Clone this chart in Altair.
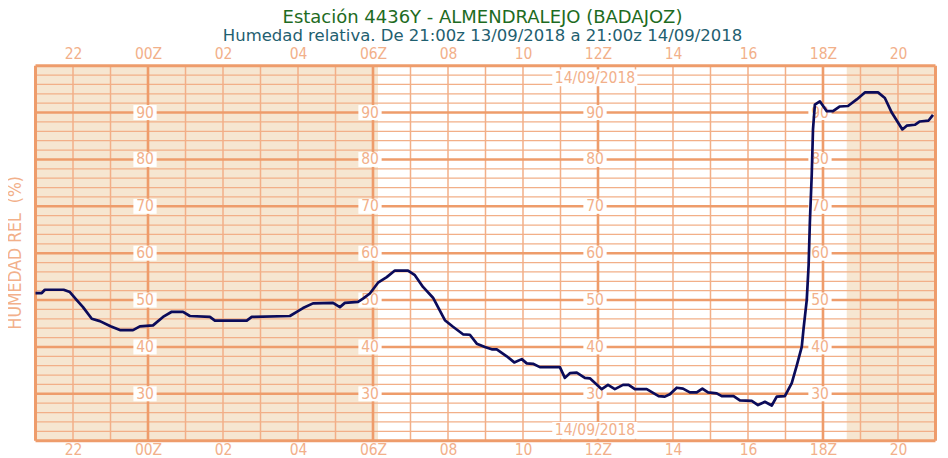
import altair as alt
import pandas as pd

# ---------------- data ----------------
times = ["21:00", "21:10", "21:15", "21:45", "21:55", "22:06", "22:16", "22:30", "22:43", "23:00",
         "23:15", "23:36", "23:47", "00:08", "00:24", "00:38", "00:56", "01:07", "01:39", "01:47",
         "02:38", "02:46", "03:47", "03:58", "04:08", "04:24", "04:56", "05:07", "05:15", "05:36",
         "05:44", "05:55", "06:08", "06:22", "06:35", "06:56", "07:07", "07:20", "07:36", "07:55",
         "08:08", "08:24", "08:35", "08:46", "08:59", "09:10", "09:18", "09:34", "09:46", "09:58",
         "10:06", "10:16", "10:27", "10:59", "11:07", "11:15", "11:26", "11:39", "11:47", "12:06",
         "12:16", "12:27", "12:40", "12:49", "12:59", "13:18", "13:37", "13:47", "13:55", "14:06",
         "14:16", "14:27", "14:38", "14:47", "14:56", "15:10", "15:18", "15:37", "15:47", "16:06",
         "16:16", "16:27", "16:38", "16:46", "16:59", "17:10", "17:18", "17:26", "17:29", "17:34",
         "17:37", "17:39", "17:42", "17:44", "17:47", "17:55", "18:06", "18:16", "18:27", "18:40",
         "18:54", "19:07", "19:28", "19:39", "19:50", "20:07", "20:14", "20:27", "20:35", "20:49",
         "20:56"]
humidity = [51.5, 51.5, 52.2, 52.2, 51.7, 50.0, 48.5, 46.0, 45.5, 44.4,
            43.6, 43.6, 44.4, 44.6, 46.4, 47.5, 47.5, 46.6, 46.4, 45.6,
            45.6, 46.4, 46.6, 47.5, 48.3, 49.3, 49.4, 48.5, 49.4, 49.6,
            50.3, 51.4, 53.7, 54.9, 56.3, 56.3, 55.3, 52.8, 50.5, 45.7,
            44.3, 42.7, 42.6, 40.7, 40.0, 39.5, 39.5, 38.0, 36.7, 37.4,
            36.5, 36.4, 35.7, 35.7, 33.4, 34.4, 34.5, 33.4, 33.3, 31.0,
            31.9, 31.0, 31.9, 31.9, 31.0, 31.0, 29.5, 29.4, 29.9, 31.3,
            31.1, 30.3, 30.3, 31.1, 30.3, 30.1, 29.5, 29.5, 28.6, 28.5,
            27.6, 28.3, 27.5, 29.4, 29.5, 32.3, 36.0, 40.0, 44.0, 50.0,
            57.4, 66.6, 76.8, 86.4, 91.7, 92.4, 90.3, 90.3, 91.3, 91.4,
            92.8, 94.3, 94.3, 93.1, 90.0, 86.4, 87.2, 87.4, 88.1, 88.3,
            89.5]

sunrise = "06:08"
sunset = "18:38"
y_labels = [30, 40, 50, 60, 70, 80, 90]
label_hours = ["00:00", "06:00", "12:00", "18:00"]
axis_hours = ["22:00", "00:00", "02:00", "04:00", "06:00", "08:00", "10:00",
              "12:00", "14:00", "16:00", "18:00", "20:00"]
date_text = "14/09/2018"

TITLE = "Estación 4436Y - ALMENDRALEJO (BADAJOZ)"
SUBTITLE = "Humedad relativa. De 21:00z 13/09/2018 a 21:00z 14/09/2018"
Y_TITLE = "HUMEDAD REL\u00a0 (%)"


def to_h(s):
    hh, mm = (int(p) for p in s.split(":"))
    return (hh - 21) % 24 + mm / 60


# ---------------- styling ----------------
SHADE = "#F6E6D1"
THIN = "#F2AF88"
THICK = "#EE9C6B"
LBL = "#F2B08A"
NAVY = "#0B0B5A"
GREEN = "#1E6B22"
TEAL = "#1F6070"
FONT = "DejaVu Sans Condensed, Liberation Sans Narrow, DejaVu Sans"
TFONT = "DejaVu Sans"
W, H = 900, 375

X = alt.Scale(domain=[0, 24], nice=False, zero=False)
Y = alt.Scale(domain=[20, 100], nice=False, zero=False)

label_expr = ("(((datum.value+21)%24) < 10 ? '0' : '') + ((datum.value+21)%24)"
              " + ((((datum.value+21)%24) % 6 == 0) ? 'Z' : '')")
tick_vals = [to_h(t) for t in axis_hours]


def xaxis(orient, pad):
    return alt.Axis(orient=orient, values=tick_vals, labelExpr=label_expr, domain=False,
                    ticks=False, grid=False, labelFont=FONT, labelFontSize=15.5,
                    labelColor=LBL, labelPadding=pad, title=None, labelFlush=False)


line_df = pd.DataFrame({"h": [to_h(t) for t in times], "v": humidity})
night_df = pd.DataFrame({"start": [0, to_h(sunset)], "end": [to_h(sunrise), 24],
                         "lo": [20, 20], "hi": [100, 100]})

shade = alt.Chart(night_df).mark_rect(color=SHADE).encode(
    x=alt.X("start:Q", scale=X, axis=xaxis("top", 4)),
    x2="end:Q",
    y=alt.Y("lo:Q", scale=Y, axis=None),
    y2="hi:Q",
)

noon = to_h("12:00")
strip_df = pd.DataFrame({"a": [noon - 0.37], "b": [noon + 0.35], "lo": [20], "hi": [100]})
strip = alt.Chart(strip_df).mark_rect(color="white").encode(
    x=alt.X("a:Q", scale=X, axis=None), x2="b:Q",
    y=alt.Y("lo:Q", scale=Y, axis=None), y2="hi:Q")

thin_h = [v for v in range(22, 100, 2) if v % 10 != 0]
thick_h = list(range(30, 100, 10))
major_hours = [to_h(t) for t in label_hours]
thin_v = [h for h in range(1, 24) if h not in major_hours]

rule_thin_h = alt.Chart(pd.DataFrame({"y": thin_h})).mark_rule(color=THIN, strokeWidth=1.3).encode(
    y=alt.Y("y:Q", scale=Y, axis=None))
rule_thin_v = alt.Chart(pd.DataFrame({"x": thin_v})).mark_rule(color=THIN, strokeWidth=1.5).encode(
    x=alt.X("x:Q", scale=X, axis=None))
rule_thick_h = alt.Chart(pd.DataFrame({"y": thick_h})).mark_rule(color=THICK, strokeWidth=2.6).encode(
    y=alt.Y("y:Q", scale=Y, axis=None))
rule_thick_v = alt.Chart(pd.DataFrame({"x": major_hours})).mark_rule(color=THICK, strokeWidth=2.6).encode(
    x=alt.X("x:Q", scale=X, axis=None))
border_v = alt.Chart(pd.DataFrame({"x": [0, 24]})).mark_rule(color=THICK, strokeWidth=3).encode(
    x=alt.X("x:Q", scale=X, axis=None))
border_h = alt.Chart(pd.DataFrame({"y": [20, 100]})).mark_rule(color=THICK, strokeWidth=3).encode(
    y=alt.Y("y:Q", scale=Y, axis=None))

lab_df = pd.DataFrame([{"h": h, "v": v} for h in major_hours for v in y_labels])
lab_box = alt.Chart(lab_df).transform_calculate(
    x1="datum.h - 0.39", x2="datum.h + 0.23", y1="datum.v - 1.6", y2="datum.v + 1.6"
).mark_rect(color="white").encode(
    x=alt.X("x1:Q", scale=X, axis=None), x2="x2:Q",
    y=alt.Y("y1:Q", scale=Y, axis=None), y2="y2:Q")
lab_txt = alt.Chart(lab_df).mark_text(font=FONT, fontSize=15.5, color=LBL, dx=-3,
                                      baseline="middle", align="center").encode(
    x=alt.X("h:Q", scale=X, axis=None), y=alt.Y("v:Q", scale=Y, axis=None), text="v:Q")

date_df = pd.DataFrame({"h": [noon, noon], "v": [97.4, 22.2], "t": [date_text, date_text]})
date_box = alt.Chart(date_df).transform_calculate(
    x1="datum.h - 1.22", x2="datum.h + 1.05", y1="datum.v - 1.8", y2="datum.v + 1.8"
).mark_rect(color="white").encode(
    x=alt.X("x1:Q", scale=X, axis=None), x2="x2:Q",
    y=alt.Y("y1:Q", scale=Y, axis=None), y2="y2:Q")
date_txt = alt.Chart(date_df).mark_text(font=FONT, fontSize=15.5, color=LBL, dx=-3,
                                        baseline="middle", align="center").encode(
    x=alt.X("h:Q", scale=X, axis=None), y=alt.Y("v:Q", scale=Y, axis=None), text="t:N")

ytitle = alt.Chart(pd.DataFrame({"t": [Y_TITLE]})).mark_text(
    font=FONT, fontSize=17.5, color=LBL, angle=270, align="center", baseline="middle"
).encode(x=alt.value(-20), y=alt.value(187), text="t:N")

line = alt.Chart(line_df).mark_line(color=NAVY, strokeWidth=2.7, strokeJoin="round").encode(
    x=alt.X("h:Q", scale=X, axis=xaxis("bottom", 2)),
    y=alt.Y("v:Q", scale=Y, axis=None))

chart = alt.layer(
    shade, strip, rule_thin_h, rule_thin_v, rule_thick_h, rule_thick_v, border_v, border_h,
    lab_box, lab_txt, date_box, date_txt, ytitle, line
).resolve_axis(x="independent").properties(
    width=W, height=H,
    autosize=alt.AutoSizeParams(type="none"),
    padding={"left": 27.5, "top": 57.7, "right": 4.5, "bottom": 18},
    title=alt.TitleParams(
        text=TITLE, subtitle=SUBTITLE, color=GREEN, subtitleColor=TEAL,
        font=TFONT, subtitleFont=TFONT, fontSize=18, subtitleFontSize=16.5,
        fontWeight="normal", anchor="middle", offset=2, subtitlePadding=1, dx=-3),
).configure_view(stroke=None)

chart.save("out.html", embed_options={"renderer": "svg", "actions": False})
